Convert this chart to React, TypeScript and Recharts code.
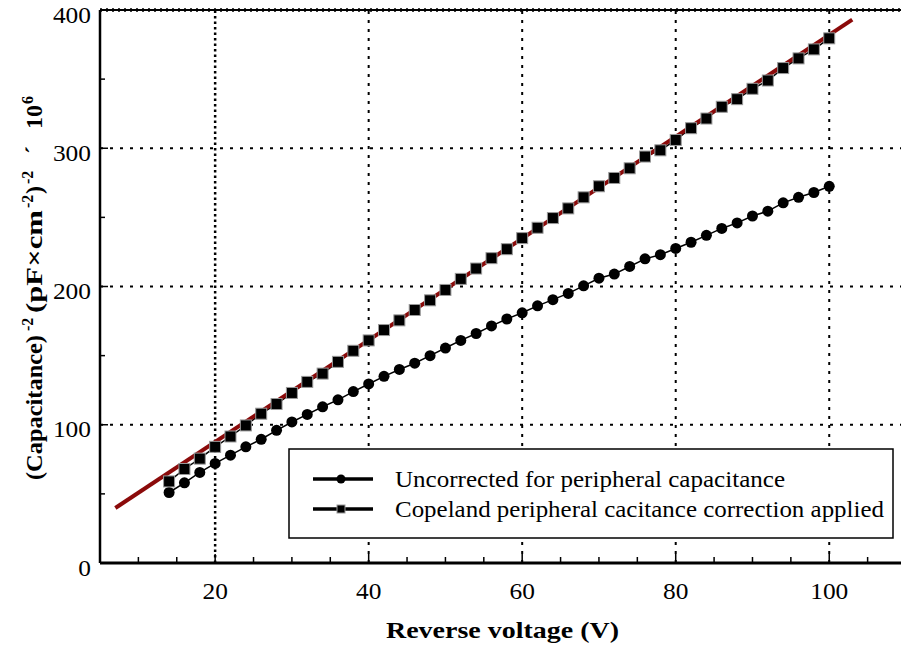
import React from 'react';
import { ComposedChart, Line, XAxis, YAxis, ReferenceLine } from 'recharts';

// reverse bias voltage, V
const volts = [
  14, 16, 18, 20, 22, 24, 26, 28, 30, 32, 34, 36, 38, 40, 42, 44, 46, 48, 50, 52, 54, 56,
  58, 60, 62, 64, 66, 68, 70, 72, 74, 76, 78, 80, 82, 84, 86, 88, 90, 92, 94, 96, 98, 100,
];

// C^-2 without peripheral correction
const uncorrected = [
  51, 58, 65.5, 72, 78, 84, 89.5, 96, 102, 107.5, 113, 118, 124, 129.5, 135, 140, 144.5, 150,
  155.5, 161, 166, 171.5, 176.5, 181, 186, 190.5, 195, 200.5, 206, 209, 214.5, 220, 223, 227.5,
  232, 237, 242, 246, 251, 254.5, 260.5, 264.5, 268, 272.5,
];

// C^-2 after Copeland correction
const corrected = [
  59, 68, 75.5, 84, 91.5, 99.5, 108, 115, 123, 131, 137, 145.5, 153.5, 161, 168.5, 175.5, 183,
  190, 197.5, 205.5, 213, 220.5, 227, 235, 242.5, 249.5, 256.5, 264.5, 272.5, 278.5, 285.5, 294,
  298.5, 306, 314.5, 321.5, 330, 335.5, 343, 349, 358, 365, 371.5, 379.5,
];

// linear fit through the corrected points
const fitVolts = [7, 103];
const fitValues = [39.8, 393];

const xTicks = [5, 10, 15, 20, 25, 30, 35, 40, 45, 50, 55, 60, 65, 70, 75, 80, 85, 90, 95, 100, 105, 110];
const xLabels = [20, 40, 60, 80, 100];
const yTicks = [0, 50, 100, 150, 200, 250, 300, 350, 400];
const yLabels = [0, 100, 200, 300, 400];
const hGrid = [100, 200, 300];
const vGrid = [40, 60, 80, 100];

const legendNames = ['Uncorrected for peripheral capacitance', 'Copeland peripheral cacitance correction applied'];

const data = volts.map((v, i) => ({ v, uncorrected: uncorrected[i], corrected: corrected[i] }));
const fitData = fitVolts.map((v, i) => ({ v, fit: fitValues[i] }));

const FONT = 'Liberation Serif, DejaVu Serif, serif';
const DIGIT_W = 12.7; // the Times digits here are set a little wide

const XTick = (props: any) => {
  const { x, y, payload } = props;
  const major = xLabels.includes(payload.value);
  const s = String(payload.value);
  return (
    <g>
      <line x1={x} x2={x} y1={y} y2={y - (major ? 9 : 6)} stroke="#000" strokeWidth={1.5} />
      {major && (
        <text
          x={x}
          y={y + 36}
          textAnchor="middle"
          fontSize={23}
          fontFamily={FONT}
          fill="#000"
          textLength={s.length * DIGIT_W}
          lengthAdjust="spacingAndGlyphs"
        >
          {s}
        </text>
      )}
    </g>
  );
};

const YTick = (props: any) => {
  const { x, y, payload } = props;
  const major = yLabels.includes(payload.value);
  const s = String(payload.value);
  return (
    <g>
      <line x1={x} x2={x + (major ? 8 : 5)} y1={y} y2={y} stroke="#000" strokeWidth={1.5} />
      {major && (
        <text
          x={x - 9}
          y={y + 12.5}
          textAnchor="end"
          fontSize={23}
          fontFamily={FONT}
          fill="#000"
          textLength={s.length * DIGIT_W}
          lengthAdjust="spacingAndGlyphs"
        >
          {s}
        </text>
      )}
    </g>
  );
};

const SquareDot = (props: any) => {
  const { cx, cy, index } = props;
  if (cx == null || cy == null) return <g key={`sq-${index}`} />;
  return (
    <rect
      key={`sq-${index}`}
      x={cx - 5.5}
      y={cy - 5.5}
      width={11}
      height={11}
      fill="#000"
      stroke="#999"
      strokeWidth={1}
    />
  );
};

// legend box, drawn over the lower right of the plot
const legendRows = [479, 509];
const legendWidths = [390, 489];

const LegendBox = () => (
  <g>
    <rect x={289} y={449} width={604} height={89} fill="#fff" stroke="#000" strokeWidth={1.5} />
    {legendNames.map((name, i) => {
      const cy = legendRows[i];
      return (
        <g key={name}>
          <line x1={313} x2={373} y1={cy} y2={cy} stroke="#000" strokeWidth={3.5} />
          {i === 0 ? (
            <circle cx={341} cy={cy} r={4.5} fill="#000" />
          ) : (
            <rect x={337} y={cy - 4} width={8} height={8} fill="#000" stroke="#999" strokeWidth={1} />
          )}
          <text
            x={395}
            y={cy + 8}
            fontSize={24}
            fontFamily={FONT}
            fill="#000"
            textLength={legendWidths[i]}
            lengthAdjust="spacingAndGlyphs"
          >
            {name}
          </text>
        </g>
      );
    })}
  </g>
);

const SUP = 16;

export default function App() {
  return (
    <div style={{ position: 'absolute', left: 0, top: 0, width: 901, height: 649, overflow: 'hidden', background: '#fff' }}>
      <ComposedChart width={920} height={649} data={data} margin={{ top: 10, right: 14, bottom: 0, left: 0 }}>
        <XAxis
          dataKey="v"
          type="number"
          domain={[5, 110]}
          ticks={xTicks}
          interval={0}
          tickSize={0}
          tickMargin={0}
          tickLine={false}
          tick={<XTick />}
          height={86}
          axisLine={{ stroke: '#000', strokeWidth: 3 }}
        />
        <YAxis
          type="number"
          domain={[0, 400]}
          ticks={yTicks}
          interval={0}
          tickSize={0}
          tickMargin={0}
          tickLine={false}
          tick={<YTick />}
          width={100}
          axisLine={{ stroke: '#000', strokeWidth: 2.5 }}
        />
        {hGrid.map((g) => (
          <ReferenceLine key={`h${g}`} y={g} stroke="#000" strokeWidth={2} strokeDasharray="3 7" />
        ))}
        <ReferenceLine y={400} stroke="#000" strokeWidth={2} />
        <ReferenceLine y={400} stroke="#000" strokeWidth={3.5} strokeDasharray="2 4" />
        <ReferenceLine x={20} stroke="#000" strokeWidth={2.5} strokeDasharray="2.5 3" />
        {vGrid.map((g) => (
          <ReferenceLine key={`v${g}`} x={g} stroke="#000" strokeWidth={2} strokeDasharray="3 6" />
        ))}
        <Line
          dataKey="uncorrected"
          stroke="#000"
          strokeWidth={1.5}
          dot={{ r: 5.5, fill: '#000', stroke: '#000', strokeWidth: 0 }}
          isAnimationActive={false}
        />
        <Line dataKey="corrected" stroke="#000" strokeWidth={1.5} dot={SquareDot} isAnimationActive={false} />
        <Line
          data={fitData}
          dataKey="fit"
          stroke="#8b0a0a"
          strokeWidth={4}
          dot={false}
          isAnimationActive={false}
        />
      </ComposedChart>
      <svg width={901} height={649} style={{ position: 'absolute', left: 0, top: 0, pointerEvents: 'none' }}>
        <LegendBox />
        <text
          x={386}
          y={637.5}
          fontSize={24}
          fontWeight="bold"
          fontFamily={FONT}
          fill="#000"
          textLength={233}
          lengthAdjust="spacingAndGlyphs"
        >
          Reverse voltage (V)
        </text>
        {/* rotated axis title; x runs upward along the axis, centred on y = 287 */}
        <g transform="translate(42,287) rotate(-90)" fontFamily={FONT} fontWeight="bold" fill="#000">
          <text x={-193} y={0} fontSize={24} textLength={145} lengthAdjust="spacingAndGlyphs">
            (Capacitance)
          </text>
          <text x={-44} y={-9} fontSize={SUP}>-2</text>
          <text x={-26} y={0} fontSize={24} textLength={103} lengthAdjust="spacingAndGlyphs">
            (pF×cm
          </text>
          <text x={79} y={-9} fontSize={SUP}>-2</text>
          <text x={93} y={0} fontSize={24}>)</text>
          <text x={103} y={-9} fontSize={SUP}>-2</text>
          <text x={133} y={0} fontSize={24}>´</text>
          <text x={158} y={0} fontSize={24}>10</text>
          <text x={183} y={-9} fontSize={SUP}>6</text>
        </g>
      </svg>
    </div>
  );
}
